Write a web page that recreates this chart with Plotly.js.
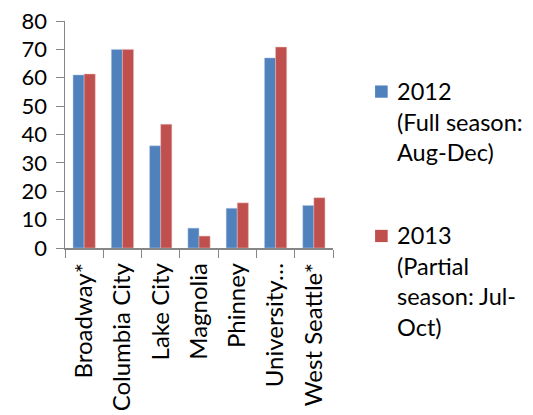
<!DOCTYPE html>
<html><head><meta charset="utf-8">
<script src="https://cdn.plot.ly/plotly-3.0.1.min.js"></script>
<style>html,body{margin:0;padding:0;background:#fff}#chart{width:533px;height:415px}</style>
</head><body><div id="chart"></div>
<script>
const categories = ["Broadway*", "Columbia City", "Lake City", "Magnolia", "Phinney", "University…", "West Seattle*"];
const values2012 = [61, 70, 36, 7, 14, 67, 15];
const values2013 = [61.3, 70, 43.6, 4.2, 15.9, 70.8, 17.7];
const seriesNames = ["2012<br>(Full season:<br>Aug-Dec)", "2013<br>(Partial<br>season: Jul-<br>Oct)"];
const seriesColors = ["#4F81BD", "#C0504D"];
const yTicks = [0, 10, 20, 30, 40, 50, 60, 70, 80];

const font = "Lato, Open Sans, sans-serif";
const traces = [
  {type: "bar", x: categories, y: values2012, name: seriesNames[0],
   marker: {color: seriesColors[0], line: {color: "#B9CDE5", width: 0.5}}},
  {type: "bar", x: categories, y: values2013, name: seriesNames[1],
   marker: {color: seriesColors[1], line: {color: "#E6B9B8", width: 0.5}}}
];

// legend drawn as layout items (positions in paper units)
const legendTextX = 1.233;
const legendTextY = [0.762, 0.128];
const legendBox = [[1.157, 0.662, 1.204, 0.716], [1.157, 0.026, 1.204, 0.080]];
const annotations = seriesNames.map((n, i) => ({
  xref: "paper", yref: "paper", x: legendTextX, y: legendTextY[i],
  xanchor: "left", yanchor: "top", align: "left", showarrow: false,
  text: n, font: {size: 23.5, family: font, color: "#000"}
}));
const shapes = seriesColors.map((c, i) => ({
  type: "rect", xref: "paper", yref: "paper",
  x0: legendBox[i][0], y0: legendBox[i][1], x1: legendBox[i][2], y1: legendBox[i][3],
  fillcolor: c, line: {width: 0}
}));

const layout = {
  width: 533, height: 415,
  margin: {l: 65, r: 200, t: 21, b: 167},
  paper_bgcolor: "#fff", plot_bgcolor: "#fff",
  barmode: "group", bargap: 0.42, bargroupgap: 0,
  font: {family: font, color: "#000"},
  xaxis: {type: "category", tickangle: -90, tickfont: {size: 24, family: font},
    showline: true, linecolor: "#868686", linewidth: 1.5,
    ticks: "outside", ticklen: 8, tickcolor: "#868686", tickson: "boundaries",
    ticklabelstandoff: 4,
    showgrid: false, zeroline: false, automargin: false},
  yaxis: {range: [0, 80], tickvals: yTicks, ticktext: yTicks.map(String),
    tickfont: {size: 22, family: font}, ticklabelstandoff: 4,
    showline: true, linecolor: "#868686", linewidth: 1.5,
    ticks: "outside", ticklen: 8, tickcolor: "#868686",
    showgrid: false, zeroline: false, automargin: false},
  showlegend: false,
  annotations: annotations,
  shapes: shapes
};
Plotly.newPlot("chart", traces, layout, {displayModeBar: false, staticPlot: true});
</script></body></html>
